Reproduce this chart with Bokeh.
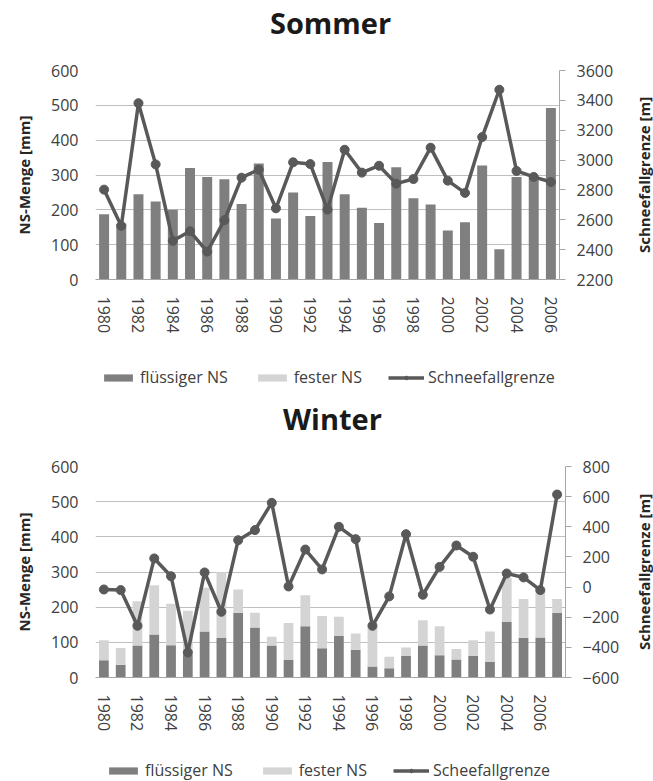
import math
from bokeh.plotting import figure
from bokeh.models import Range1d, LinearAxis, FixedTicker, Legend, LegendItem, Label
from bokeh.layouts import column, row
from bokeh.embed import file_html
from bokeh.resources import INLINE

# ---------------- data ----------------
years_sommer = [1980, 1981, 1982, 1983, 1984, 1985, 1986, 1987, 1988, 1989, 1990,
                1991, 1992, 1993, 1994, 1995, 1996, 1997, 1998, 1999, 2000, 2001,
                2002, 2003, 2004, 2005, 2006]
sommer_fluessig = [187, 160, 245, 224, 200, 320, 294, 288, 217, 333, 175, 250, 182, 337,
                   245, 206, 162, 322, 233, 215, 141, 164, 327, 87, 294, 292, 492]
sommer_fest = [0, 0, 0, 0, 0, 0, 0, 0, 0, 0, 0, 0, 0, 0,
               0, 0, 0, 0, 0, 0, 0, 0, 0, 0, 0, 0, 0]
sommer_grenze = [2802, 2559, 3381, 2971, 2459, 2523, 2387, 2597, 2882, 2936, 2677, 2985,
                 2973, 2668, 3069, 2916, 2962, 2842, 2873, 3083, 2862, 2780, 3154, 3471,
                 2927, 2887, 2853]

years_winter = [1980, 1981, 1982, 1983, 1984, 1985, 1986, 1987, 1988, 1989, 1990,
                1991, 1992, 1993, 1994, 1995, 1996, 1997, 1998, 1999, 2000, 2001,
                2002, 2003, 2004, 2005, 2006, 2007]
winter_fluessig = [49, 36, 91, 122, 92, 65, 131, 112, 184, 142, 91, 50, 146, 83,
                   118, 79, 31, 26, 61, 91, 63, 51, 62, 45, 158, 113, 114, 184]
winter_fest = [57, 48, 126, 140, 118, 125, 124, 187, 66, 42, 25, 105, 88, 92,
               55, 46, 109, 33, 24, 72, 83, 30, 44, 86, 126, 110, 137, 39]
winter_grenze = [-16, -20, -257, 190, 72, -434, 97, -164, 311, 378, 559, 4, 249, 117,
                 400, 318, -257, -62, 351, -51, 134, 276, 201, -149, 90, 64, -20, 614]

year_ticks = [1980, 1982, 1984, 1986, 1988, 1990, 1992, 1994, 1996, 1998, 2000,
              2002, 2004, 2006]
left_ticks = [0, 100, 200, 300, 400, 500, 600]
right_ticks_sommer = [2200, 2400, 2600, 2800, 3000, 3200, 3400, 3600]
right_ticks_winter = [-600, -400, -200, 0, 200, 400, 600, 800]

# ---------------- styles ----------------
DARK = "#7f7f7f"
LIGHT = "#d4d4d4"
LINE = "#595959"
GRID = "#bfbfbf"
AXIS = "#a6a6a6"
TXT = "#404040"
FONT = "Open Sans"
W = 653          # full page width
STRIP = 22       # right strip holding the right axis label
CW = W - STRIP   # chart width
HAS_ANCHOR = "anchor" in Label.properties()


def blank(width, height):
    q = figure(width=width, height=height, output_backend="svg", toolbar_location=None,
               min_border=0, x_axis_location=None, y_axis_location=None,
               x_range=Range1d(0, 1), y_range=Range1d(0, 1))
    q.outline_line_color = None
    q.grid.grid_line_color = None
    q.background_fill_color = "white"
    q.border_fill_color = "white"
    return q


def centered_label(text, x, y, size):
    kw = dict(x=x, y=y, x_units="screen", y_units="screen", text=text,
              text_align="center", text_baseline="middle", text_font=FONT,
              text_font_size=size, text_font_style="bold", text_color="#1a1a1a")
    if HAS_ANCHOR:
        kw["anchor"] = "center"
    return Label(**kw)


def add_legend(q, x, y, line_label, years, fl, fe, gr):
    # legend-only renderers (hidden); legend drawn without the inactive overlay
    total = [a + b for a, b in zip(fl, fe)]
    r1 = q.vbar(x=years, top=fl, width=0.58, fill_color=DARK, line_color=None, visible=False)
    r2 = q.vbar(x=years, top=total, bottom=fl, width=0.58, fill_color=LIGHT,
                line_color=None, visible=False)
    r3 = q.line(x=years, y=gr, line_color=LINE, line_width=3.5, visible=False)
    r4 = q.scatter(x=years, y=gr, size=8, fill_color=LINE, line_color=LINE, visible=False)
    lg = Legend(items=[LegendItem(label="flüssiger NS", renderers=[r1]),
                       LegendItem(label="fester NS", renderers=[r2]),
                       LegendItem(label=line_label, renderers=[r3, r4])],
                orientation="horizontal", location=(x, y),
                glyph_width=36, glyph_height=9, label_height=18, label_standoff=4,
                spacing=26, padding=0, margin=0, border_line_color=None,
                background_fill_alpha=0, inactive_fill_alpha=0, label_text_font=FONT,
                label_text_font_size="16px", label_text_color=TXT)
    q.add_layout(lg)


def chart(years, fl, fe, gr, rticks, height, frame_w, frame_h, top):
    left = 95
    right = CW - left - frame_w
    bottom = height - top - frame_h
    p = figure(width=CW, height=height, output_backend="svg", toolbar_location=None,
               min_border_left=left, min_border_right=right,
               min_border_top=top, min_border_bottom=bottom,
               x_range=Range1d(years[0] - 0.5, years[-1] + 0.5),
               y_range=Range1d(0, 600))
    p.outline_line_color = None
    p.background_fill_color = "white"
    p.border_fill_color = "white"
    p.xgrid.grid_line_color = None
    p.ygrid.grid_line_color = GRID
    p.ygrid.ticker = FixedTicker(ticks=left_ticks)

    xa = p.xaxis[0]
    xa.ticker = FixedTicker(ticks=year_ticks)
    xa.major_label_orientation = "vertical"
    xa.axis_line_color = AXIS
    xa.major_tick_line_color = None
    xa.minor_tick_line_color = None
    xa.major_tick_out = 0
    xa.major_label_standoff = 17
    xa.major_label_text_font = FONT
    xa.major_label_text_font_size = "16px"
    xa.major_label_text_color = TXT

    ya = p.yaxis[0]
    ya.ticker = FixedTicker(ticks=left_ticks)
    ya.axis_line_color = None
    ya.major_tick_line_color = None
    ya.minor_tick_line_color = None
    ya.major_tick_out = 0
    ya.major_label_standoff = 17
    ya.major_label_text_font = FONT
    ya.major_label_text_font_size = "16px"
    ya.major_label_text_color = TXT
    ya.axis_label = "NS-Menge [mm]"
    ya.axis_label_text_font = FONT
    ya.axis_label_text_font_size = "15px"
    ya.axis_label_text_font_style = "bold"
    ya.axis_label_text_color = "#262626"
    ya.axis_label_standoff = 14

    p.extra_y_ranges = {"r": Range1d(rticks[0], rticks[-1])}
    ra = LinearAxis(y_range_name="r", ticker=FixedTicker(ticks=rticks))
    ra.axis_line_color = AXIS
    ra.major_tick_line_color = AXIS
    ra.minor_tick_line_color = None
    ra.major_tick_out = 6
    ra.major_tick_in = 0
    ra.major_label_standoff = 11
    ra.major_label_text_font = FONT
    ra.major_label_text_font_size = "16px"
    ra.major_label_text_color = TXT
    p.add_layout(ra, "right")

    total = [a + b for a, b in zip(fl, fe)]
    p.vbar(x=years, top=fl, bottom=0, width=0.58, fill_color=DARK, line_color=None)
    p.vbar(x=years, top=total, bottom=fl, width=0.58, fill_color=LIGHT, line_color=None)
    p.line(x=years, y=gr, y_range_name="r", line_color=LINE, line_width=3.5)
    p.scatter(x=years, y=gr, y_range_name="r", size=9, fill_color=LINE, line_color=LINE)
    return p


def right_label(height, top, frame_h):
    # narrow strip whose (tick-less) left axis carries the right-hand axis title,
    # aligned with the chart's frame so that it is centred on it
    s = figure(width=STRIP, height=height, output_backend="svg", toolbar_location=None,
               min_border_left=0, min_border_right=0, min_border_top=top,
               min_border_bottom=height - top - frame_h,
               x_axis_location=None, y_axis_location="left",
               x_range=Range1d(0, 1), y_range=Range1d(0, 1))
    s.outline_line_color = None
    s.grid.grid_line_color = None
    s.background_fill_color = "white"
    s.border_fill_color = "white"
    ax = s.yaxis[0]
    ax.ticker = FixedTicker(ticks=[])
    ax.axis_line_color = None
    ax.major_tick_line_color = None
    ax.minor_tick_line_color = None
    ax.major_tick_out = 0
    ax.major_tick_in = 0
    ax.major_label_standoff = 0
    ax.axis_label = "Schneefallgrenze [m]"
    ax.axis_label_standoff = 0
    ax.axis_label_text_font = FONT
    ax.axis_label_text_font_size = "15px"
    ax.axis_label_text_font_style = "bold"
    ax.axis_label_text_color = "#262626"
    return s


# --- Sommer title strip (0..42)
t1 = blank(W, 42)
t1.add_layout(centered_label("Sommer", 330, 20, "29px"))

# --- Sommer chart (42..360), frame 70..279
p1 = chart(years_sommer, sommer_fluessig, sommer_fest, sommer_grenze,
           right_ticks_sommer, height=318, frame_w=464, frame_h=209, top=28)
s1 = right_label(318, 28, 209)

# --- middle strip (360..440): Sommer legend + Winter title
mid = blank(W, 80)
add_legend(mid, 100, 52, "Schneefallgrenze", years_sommer, sommer_fluessig,
           sommer_fest, sommer_grenze)
mid.add_layout(centered_label("Winter", 332, 22, "29px"))

# --- Winter chart (440..760), frame 466..677
p2 = chart(years_winter, winter_fluessig, winter_fest, winter_grenze,
           right_ticks_winter, height=320, frame_w=470, frame_h=211, top=26)
s2 = right_label(320, 26, 211)

# --- Winter legend strip (760..781)
l2 = blank(W, 21)
add_legend(l2, 105, 0, "Scheefallgrenze", years_winter, winter_fluessig,
           winter_fest, winter_grenze)

layout = column(t1, row(p1, s1, spacing=0), mid, row(p2, s2, spacing=0), l2, spacing=0)
open("out.html", "w").write(file_html(layout, INLINE))
